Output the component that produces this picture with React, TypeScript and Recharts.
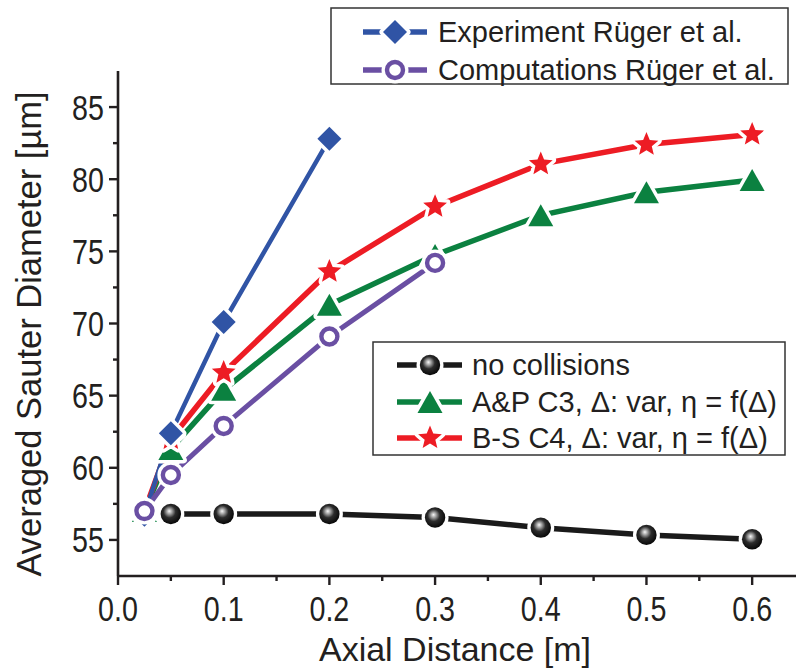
import React from 'react';
import { LineChart, Line, XAxis, YAxis } from 'recharts';

// ---------- data ----------
const expX = [0.025, 0.05, 0.1, 0.2];
const expY = [56.75, 62.4, 70.1, 82.8];

const compX = [0.025, 0.05, 0.1, 0.2, 0.3];
const compY = [57.0, 59.5, 62.9, 69.1, 74.2];

const noCollX = [0.05, 0.1, 0.2, 0.3, 0.4, 0.5, 0.6];
const noCollY = [56.8, 56.8, 56.8, 56.55, 55.85, 55.35, 55.05];

const simX = [0.025, 0.05, 0.1, 0.2, 0.3, 0.4, 0.5, 0.6];
const apY = [57.0, 61.3, 65.4, 71.3, 74.75, 77.5, 79.1, 79.95];
const bsY = [57.0, 62.0, 66.6, 73.6, 78.1, 81.05, 82.4, 83.1];

const xTicks = [0, 0.05, 0.1, 0.15, 0.2, 0.25, 0.3, 0.35, 0.4, 0.45, 0.5, 0.55, 0.6];
const xTickLabels = ['0.0', '0.1', '0.2', '0.3', '0.4', '0.5', '0.6'];
const yTicks = [55, 57.5, 60, 62.5, 65, 67.5, 70, 72.5, 75, 77.5, 80, 82.5, 85];
const yMajor = [55, 60, 65, 70, 75, 80, 85];

const legendTop = ['Experiment Rüger et al.', 'Computations Rüger et al.'];
const legendBottom = ['no collisions', 'A&P C3, \u0394: var, \u03B7 = f(\u0394)', 'B-S C4, \u0394: var, \u03B7 = f(\u0394)'];

const xTitle = 'Axial Distance [m]';
const yTitle = 'Averaged Sauter Diameter [\u00B5m]';

const toPts = (xs: number[], ys: number[]) => xs.map((x, i) => ({ x, y: ys[i] }));
const expData = toPts(expX, expY);
const compData = toPts(compX, compY);
const noCollData = toPts(noCollX, noCollY);
const apData = toPts(simX, apY);
const bsData = toPts(simX, bsY);

// ---------- styles ----------
const AX = '#231F20';
const FONT = '"Liberation Sans", Arial, Helvetica, sans-serif';
const BLUE = '#3054A5';
const PURPLE = '#6A4FA3';
const GREEN = '#0B8140';
const RED = '#ED1C24';
const BLACK = '#1A1A1A';
const HALO = 7;

// ---------- markers ----------
const Diamond = ({ cx, cy, color }: any) => {
  const s = 12;
  const pts = `${cx},${cy - s} ${cx + s},${cy} ${cx},${cy + s} ${cx - s},${cy}`;
  return (
    <g>
      <polygon points={pts} fill="#fff" stroke="#fff" strokeWidth={HALO} strokeLinejoin="round" />
      <polygon points={pts} fill={color} />
    </g>
  );
};

const Triangle = ({ cx, cy, color }: any) => {
  const w = 12.5, h = 11;
  const pts = `${cx},${cy - h} ${cx + w},${cy + h} ${cx - w},${cy + h}`;
  return (
    <g>
      <polygon points={pts} fill="#fff" stroke="#fff" strokeWidth={HALO} strokeLinejoin="round" />
      <polygon points={pts} fill={color} />
    </g>
  );
};

const Star = ({ cx, cy, color }: any) => {
  const R = 12.5, r = 5.6;
  const p: string[] = [];
  for (let k = 0; k < 10; k++) {
    const a = (-90 + k * 36) * Math.PI / 180;
    const rr = k % 2 === 0 ? R : r;
    p.push(`${(cx + rr * Math.cos(a)).toFixed(2)},${(cy + rr * Math.sin(a)).toFixed(2)}`);
  }
  const pts = p.join(' ');
  return (
    <g>
      <polygon points={pts} fill="#fff" stroke="#fff" strokeWidth={HALO} strokeLinejoin="round" />
      <polygon points={pts} fill={color} />
    </g>
  );
};

const Ring = ({ cx, cy, color }: any) => (
  <g>
    <circle cx={cx} cy={cy} r={13.5} fill="#fff" />
    <circle cx={cx} cy={cy} r={8} fill="#fff" stroke={color} strokeWidth={4.4} />
  </g>
);

const Sphere = ({ cx, cy }: any) => (
  <g>
    <circle cx={cx} cy={cy} r={13.5} fill="#fff" />
    <circle cx={cx} cy={cy} r={10.2} fill="url(#sphereGrad)" />
  </g>
);

const dotOf = (M: any, color: string) => (p: any) => (
  <M key={`m-${p.index}`} cx={p.cx} cy={p.cy} color={color} />
);

// ---------- ticks ----------
const XTick = (props: any) => {
  const { x, y, payload } = props;
  const v = payload.value as number;
  const idx = Math.round(v * 20);
  const major = idx % 2 === 0;
  const label = major ? xTickLabels[idx / 2] : '';
  return (
    <g>
      <line x1={x} x2={x} y1={y} y2={y + (major ? 9 : 5)} stroke={AX} strokeWidth={2.4} />
      {major && (
        <text
          x={x}
          y={y + 45}
          textAnchor="middle"
          fontSize={35}
          fontFamily={FONT}
          fill={AX}
          transform={`translate(${x},0) scale(0.82,1) translate(${-x},0)`}
        >
          {label}
        </text>
      )}
    </g>
  );
};

const YTick = (props: any) => {
  const { x, y, payload } = props;
  const v = payload.value as number;
  const major = v % 5 === 0;
  const ax = x - 14;
  return (
    <g>
      <line x1={x - (major ? 9 : 5)} x2={x} y1={y} y2={y} stroke={AX} strokeWidth={2.4} />
      {major && (
        <text
          x={ax}
          y={y + 12.5}
          textAnchor="end"
          fontSize={35}
          fontFamily={FONT}
          fill={AX}
          transform={`translate(${ax},0) scale(0.82,1) translate(${-ax},0)`}
        >
          {String(v)}
        </text>
      )}
    </g>
  );
};

const RTick = (props: any) => {
  const { x, y } = props;
  return <line x1={x - 11} x2={x} y1={y} y2={y} stroke={AX} strokeWidth={2.4} />;
};

// ---------- legend row ----------
const LegendRow = ({ x0, x1, mx, y, tx, color, M, text }: any) => (
  <g>
    <line x1={x0} x2={x1} y1={y} y2={y} stroke={color} strokeWidth={5.5} />
    <M cx={mx} cy={y} color={color} />
    <text x={tx} y={y + 10} fontSize={29} fontFamily={FONT} fill={AX}>
      {text}
    </text>
  </g>
);

export default function App() {
  const lineCommon = {
    type: 'linear' as const,
    dataKey: 'y',
    isAnimationActive: false,
    activeDot: false,
    legendType: 'none' as const,
  };
  return (
    <div style={{ position: 'absolute', left: 0, top: 0, width: 796, height: 671, overflow: 'hidden', background: '#fff' }}>
      <svg width={0} height={0} style={{ position: 'absolute' }}>
        <defs>
          <radialGradient id="sphereGrad" cx="0.45" cy="0.42" r="0.6" fx="0.42" fy="0.36">
            <stop offset="0" stopColor="#f8f8f8" />
            <stop offset="0.2" stopColor="#a8a8a8" />
            <stop offset="0.5" stopColor="#2c2c2c" />
            <stop offset="1" stopColor="#050505" />
          </radialGradient>
        </defs>
      </svg>
      <div style={{ position: 'absolute', left: 0, top: 0 }}>
        <LineChart width={815} height={671} margin={{ top: 71, right: 10, bottom: 0, left: 0 }}>
          <XAxis
            type="number"
            dataKey="x"
            domain={[0, 0.65]}
            ticks={xTicks}
            interval={0}
            tickSize={0}
            tickMargin={0}
            tickLine={false}
            tick={(p: any) => <XTick {...p} />}
            height={95}
            axisLine={{ stroke: AX, strokeWidth: 2.6 }}
            allowDataOverflow
          />
          <XAxis
            xAxisId="top"
            orientation="top"
            type="number"
            dataKey="x"
            domain={[0, 0.65]}
            height={0}
            tick={false}
            tickLine={false}
            axisLine={{ stroke: AX, strokeWidth: 2.6 }}
            allowDataOverflow
          />
          <YAxis
            type="number"
            domain={[52.5, 87.5]}
            ticks={yTicks}
            interval={0}
            tickSize={0}
            tickMargin={0}
            tickLine={false}
            tick={(p: any) => <YTick {...p} />}
            width={118}
            axisLine={{ stroke: AX, strokeWidth: 2.6 }}
            allowDataOverflow
          />
          <YAxis
            yAxisId="r"
            orientation="right"
            type="number"
            domain={[52.5, 87.5]}
            ticks={yMajor}
            interval={0}
            tickSize={0}
            tickMargin={0}
            tickLine={false}
            tick={(p: any) => <RTick {...p} />}
            width={0}
            axisLine={{ stroke: AX, strokeWidth: 2.6 }}
            allowDataOverflow
          />
          <Line {...lineCommon} data={noCollData} stroke={BLACK} strokeWidth={5.5} dot={dotOf(Sphere, BLACK)} />
          <Line {...lineCommon} data={apData} stroke={GREEN} strokeWidth={5.5} dot={dotOf(Triangle, GREEN)} />
          <Line {...lineCommon} data={bsData} stroke={RED} strokeWidth={5.5} dot={dotOf(Star, RED)} />
          <Line {...lineCommon} data={expData} stroke={BLUE} strokeWidth={4.5} dot={dotOf(Diamond, BLUE)} />
          <Line {...lineCommon} data={compData} stroke={PURPLE} strokeWidth={5} dot={dotOf(Ring, PURPLE)} />
        </LineChart>
      </div>
      <svg
        width={796}
        height={671}
        style={{ position: 'absolute', left: 0, top: 0, pointerEvents: 'none' }}
      >
        {/* axis titles */}
        <text x={455} y={661} textAnchor="middle" fontSize={34} fontFamily={FONT} fill={AX}>
          {xTitle}
        </text>
        <text
          transform="translate(41,334) rotate(-90)"
          textAnchor="middle"
          fontSize={34.5}
          fontFamily={FONT}
          fill={AX}
        >
          {yTitle}
        </text>

        {/* top legend */}
        <rect x={331} y={8} width={457} height={76} fill="#fff" stroke="#333" strokeWidth={1.5} />
        <LegendRow x0={363} x1={427} mx={395} y={32} tx={438} color={BLUE} M={Diamond} text={legendTop[0]} />
        <LegendRow x0={363} x1={427} mx={395} y={70} tx={438} color={PURPLE} M={Ring} text={legendTop[1]} />

        {/* bottom legend */}
        <rect x={373} y={342} width={412} height={113} fill="#fff" stroke="#333" strokeWidth={1.5} />
        <LegendRow x0={397} x1={462} mx={430} y={365} tx={472} color={BLACK} M={Sphere} text={legendBottom[0]} />
        <LegendRow x0={397} x1={462} mx={430} y={402} tx={472} color={GREEN} M={Triangle} text={legendBottom[1]} />
        <LegendRow x0={397} x1={462} mx={430} y={438} tx={472} color={RED} M={Star} text={legendBottom[2]} />
      </svg>
    </div>
  );
}
